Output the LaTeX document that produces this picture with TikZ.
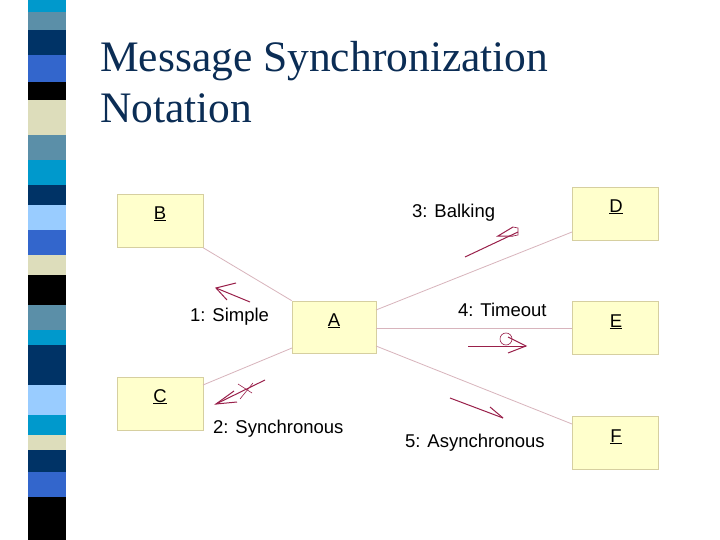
\documentclass[tikz,border=0pt]{standalone}
\usepackage{fontspec}
\setmainfont{Liberation Serif}
\newfontfamily\lsans{Liberation Sans}
\begin{document}
\begin{tikzpicture}[x=1pt,y=-1pt,
  obj/.style={draw=boxb,fill=boxf,line width=0.8pt,minimum width=86pt,minimum height=53pt,inner sep=0pt},
  lnk/.style={draw=linkc,line width=0.8pt},
  msg/.style={draw=msgc,line width=1pt},
  lbl/.style={font=\lsans\fontsize{18.5}{20}\selectfont,text=black,inner sep=0pt,anchor=base west}]
\definecolor{boxf}{HTML}{FFFFCC}\definecolor{boxb}{HTML}{D6CFA0}
\definecolor{linkc}{HTML}{D8B4BC}\definecolor{msgc}{HTML}{99204A}
\definecolor{sc1}{HTML}{0099CC}\definecolor{sc2}{HTML}{5B8FA8}\definecolor{sc3}{HTML}{003366}
\definecolor{sc4}{HTML}{3366CC}\definecolor{sc5}{HTML}{000000}\definecolor{sc6}{HTML}{DDDDBB}
\definecolor{sc7}{HTML}{99CCFF}\definecolor{titc}{HTML}{0B2D55}
\useasboundingbox (0,0) rectangle (720,540);
\fill[white] (0,0) rectangle (720,540);
\foreach \a/\b/\c in {0/12/sc1,12/30/sc2,30/55/sc3,55/82/sc4,82/100/sc5,100/135/sc6,135/160/sc2,160/185/sc1,185/205/sc3,205/230/sc7,230/255/sc4,255/275/sc6,275/305/sc5,305/330/sc2,330/345/sc1,345/385/sc3,385/415/sc7,415/435/sc1,435/450/sc6,450/472/sc3,472/497/sc4,497/540/sc5}
  \fill[\c] (28,\a) rectangle (66,\b);
\node[anchor=base west,inner sep=0pt,text=titc,font=\fontsize{43.5}{46}\selectfont] (t1) at (100,72) {Message Synchronization};
\node[anchor=base west,inner sep=0pt,text=titc,font=\fontsize{43.5}{46}\selectfont] (t2) at (100,123) {Notation};
\node[obj] (B) at (160,221) {};
\node[obj] (C) at (160,404) {};
\node[obj,minimum width=84pt,minimum height=52pt] (A) at (334,327) {};
\node[obj] (D) at (615,214) {};
\node[obj] (E) at (615,328) {};
\node[obj] (F) at (615,443) {};
\foreach \n/\t/\x/\y in {B/B/160/219,C/C/160/402,A/A/334/326,D/D/616/212,E/E/616/327,F/F/616/442}
  \node[font=\lsans\fontsize{18.5}{20}\selectfont,inner sep=0pt,anchor=base] (l\n) at (\x,\y) {\underline{\t}};
\draw[lnk] (A.north west) -- (B.south east);
\draw[lnk] (292,348) -- (203,385);
\draw[lnk] (376,310) -- (572,232);
\draw[lnk] (A.east |- E.west) -- (E.west);
\draw[lnk] (376,346) -- (572,424);
\node[lbl] (m1) at (190,321) {1: Simple};
\node[lbl] (m2) at (213,433) {2: Synchronous};
\node[lbl] (m3) at (412,218) {3: Balking};
\node[lbl] (m4) at (458,316) {4: Timeout};
\node[lbl] (m5) at (405,447) {5: Asynchronous};
% simple
\draw[msg] (250,302) -- (216,288);
\draw[msg] (236,283) -- (216,288) -- (227,300);
% synchronous
\draw[msg] (265,380) -- (216,404);
\draw[msg] (234,391) -- (216,404) -- (237,402);
\draw[msg,line width=0.6pt] (240,399) -- (253,383);
\draw[msg,line width=0.6pt] (238,384) -- (252,393);
% balking
\draw[msg] (465,257) -- (518,232);
\draw[msg] (513,227) -- (498,236) -- (513,236);
\draw[msg,line width=0.6pt] (513,227) -- (518,228) -- (518,235) -- (513,236);
% timeout
\draw[msg] (468,346) -- (526,346);
\draw[msg] (508,337) -- (526,346) -- (508,353);
\draw[msg,line width=0.6pt] (506,339) circle (6);
% asynchronous
\draw[msg] (450,398) -- (503,418);
\draw[msg] (490,407) -- (503,418);
\end{tikzpicture}
\end{document}
